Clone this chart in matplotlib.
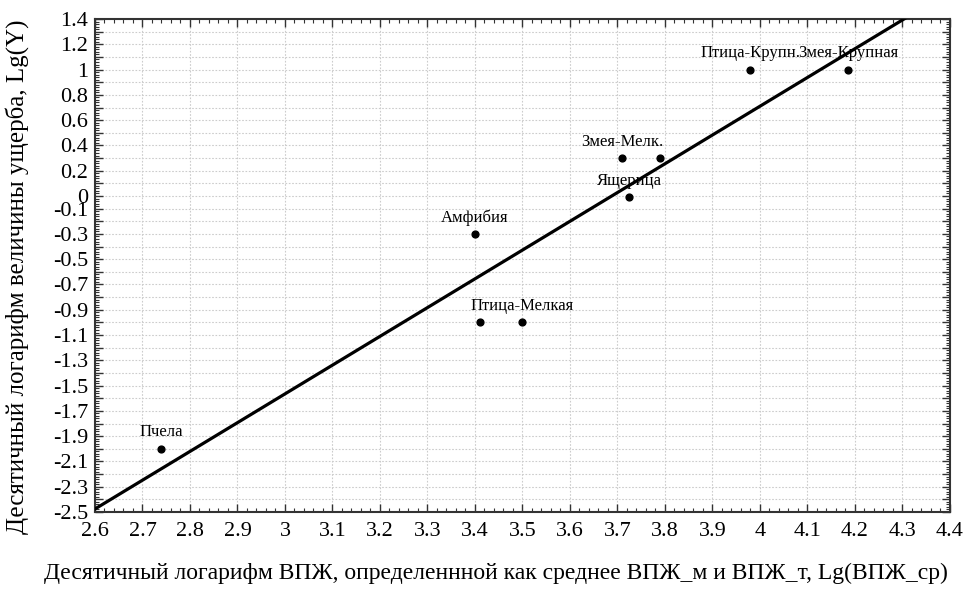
import numpy as np
import matplotlib
matplotlib.use("Agg")
import matplotlib.pyplot as plt
from matplotlib.ticker import MultipleLocator, FixedLocator

plt.rcParams['font.family'] = ['Liberation Serif', 'DejaVu Serif']

# data
x_vals = [2.74, 3.40, 3.41, 3.50, 3.71, 3.79, 3.725, 3.98, 4.185]
y_vals = [-2.0, -0.3, -1.0, -1.0, 0.3, 0.3, -0.01, 1.0, 1.0]
labels = ["Пчела", "Амфибия", "", "Птица-Мелкая", "Змея-Мелк.", "", "Ящерица",
          "Птица-Крупн.", "Змея-Крупная"]
x_ticks = [round(2.6 + 0.1 * i, 1) for i in range(19)]
y_tick_labels = [1.4, 1.2, 1.0, 0.8, 0.6, 0.4, 0.2, 0.0, -0.1, -0.3, -0.5, -0.7, -0.9,
                 -1.1, -1.3, -1.5, -1.7, -1.9, -2.1, -2.3, -2.5]

fig = plt.figure(figsize=(9.68, 5.89), dpi=100)
ax = fig.add_axes([0.0981, 0.1307, 0.8833, 0.8370])

x = np.array(x_vals)
y = np.array(y_vals)
k, b = np.polyfit(x, y, 1)
xl = np.array([2.6, 4.4])
ax.plot(xl, k * xl + b, color='black', lw=2.3, zorder=3)
ax.scatter(x, y, s=24, color='black', zorder=4)
for xi, yi, lab in zip(x_vals, y_vals, labels):
    if lab:
        ax.annotate(lab, (xi, yi), xytext=(0, 6), textcoords='offset points',
                    ha='center', va='bottom', fontsize=12, zorder=5)

ax.set_xlim(2.6, 4.4)
ax.set_ylim(-2.5, 1.4)

ax.set_xticks(x_ticks)
ax.set_xticklabels(["%g" % v for v in x_ticks])
ax.xaxis.set_minor_locator(MultipleLocator(0.02))

ymaj = [round(-2.5 + 0.1 * i, 1) for i in range(40)]
ax.yaxis.set_major_locator(FixedLocator(ymaj))
lab_set = set(round(v, 1) for v in y_tick_labels)
ax.set_yticklabels([("%g" % v if round(v, 1) in lab_set else "") for v in ymaj])
ax.yaxis.set_minor_locator(MultipleLocator(0.02))

ax.tick_params(which='both', direction='in', top=True, right=True, colors='#333333',
               labelcolor='black', labelsize=16)
ax.tick_params(which='major', length=6, width=1)
ax.tick_params(which='minor', length=3, width=0.8)
ax.tick_params(axis='x', pad=7)
ax.tick_params(axis='y', pad=5)

ax.grid(True, which='major', color='#cccccc', linestyle=(0, (1.5, 1.5)), lw=0.8)
for s in ax.spines.values():
    s.set_color('#333333')
    s.set_linewidth(1.5)

ax.set_xlabel("Десятичный логарифм ВПЖ, определеннной как среднее ВПЖ_м и ВПЖ_т, Lg(ВПЖ_ср)",
              fontsize=17)
ax.xaxis.set_label_coords(0.469, -0.103)
ax.set_ylabel("Десятичный логарифм величины ущерба, Lg(Y)", fontsize=18)
ax.yaxis.set_label_coords(-0.077, 0.477)

fig.savefig("out.png", dpi=100)
